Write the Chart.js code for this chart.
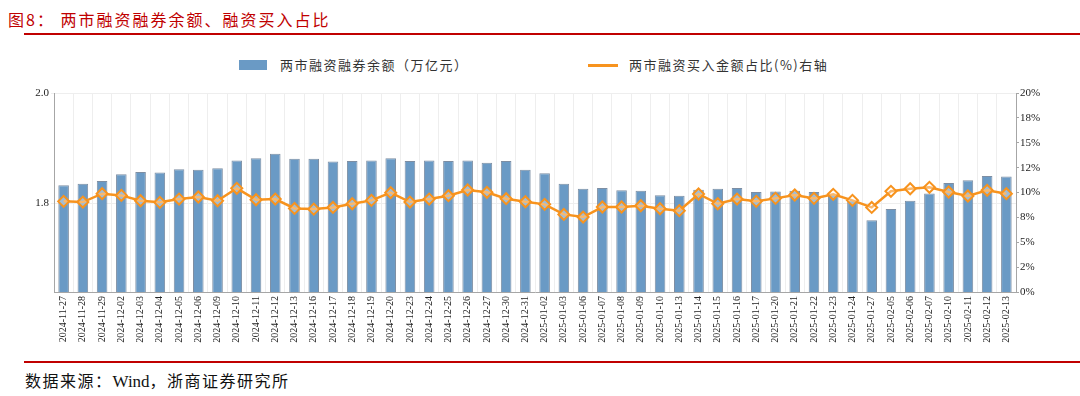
<!DOCTYPE html>
<html>
<head>
<meta charset="utf-8">
<script src="https://cdn.jsdelivr.net/npm/chart.js@4.4.1/dist/chart.umd.min.js"></script>
<style>
    body { margin: 0; width: 1080px; height: 396px; background: #fff; position: relative; overflow: hidden;
           font-family: "Noto Sans CJK SC", sans-serif; }
    #title { position: absolute; left: 8px; top: 7px; font-size: 16px; color: #C00000; letter-spacing: 2px; }
    .redline { position: absolute; left: 24px; width: 1056px; height: 2px; background: #C00000; }
    #source { position: absolute; left: 25px; top: 368px; font-size: 16px; color: #111; letter-spacing: 1.5px; }
    #source .latin { font-family: "Liberation Serif", serif; font-size: 17px; letter-spacing: 0; }
    .legend-item { position: absolute; top: 56px; height: 18px; font-size: 13px; color: #333; line-height: 18px; }
    .swatch { position: absolute; }
    #wrap { position: absolute; left: 0; top: 80px; width: 1080px; height: 275px; }
</style>
</head>
<body>
<div id="title">图8：&nbsp;两市融资融券余额、融资买入占比</div>
<div class="redline" style="top:33px"></div>
<div id="legend"></div>
<div id="wrap"><canvas id="chart"></canvas></div>
<div class="redline" style="top:361px"></div>
<div id="source">数据来源：<span class="latin">Wind</span>，浙商证券研究所</div>

<script>
// data
const dates = [
    "2024-11-27", "2024-11-28", "2024-11-29", "2024-12-02", "2024-12-03", "2024-12-04", "2024-12-05",
    "2024-12-06", "2024-12-09", "2024-12-10", "2024-12-11", "2024-12-12", "2024-12-13", "2024-12-16",
    "2024-12-17", "2024-12-18", "2024-12-19", "2024-12-20", "2024-12-23", "2024-12-24", "2024-12-25",
    "2024-12-26", "2024-12-27", "2024-12-30", "2024-12-31", "2025-01-02", "2025-01-03", "2025-01-06",
    "2025-01-07", "2025-01-08", "2025-01-09", "2025-01-10", "2025-01-13", "2025-01-14", "2025-01-15",
    "2025-01-16", "2025-01-17", "2025-01-20", "2025-01-21", "2025-01-22", "2025-01-23", "2025-01-24",
    "2025-01-27", "2025-02-05", "2025-02-06", "2025-02-07", "2025-02-10", "2025-02-11", "2025-02-12",
    "2025-02-13"
]

// 两市融资融券余额 (万亿元)
const balance = [
    1.833, 1.836, 1.841, 1.853, 1.857, 1.856, 1.862, 1.861, 1.864, 1.878,
    1.882, 1.890, 1.881, 1.881, 1.876, 1.877, 1.878, 1.882, 1.877, 1.878,
    1.877, 1.878, 1.874, 1.877, 1.861, 1.855, 1.836, 1.827, 1.828, 1.824,
    1.823, 1.815, 1.814, 1.825, 1.827, 1.828, 1.821, 1.822, 1.823, 1.821,
    1.817, 1.805, 1.770, 1.790, 1.805, 1.818, 1.837, 1.842, 1.850, 1.849
]

// 两市融资买入金额占比 (%)
const buyRatio = [
    9.11, 9.04, 9.88, 9.71, 9.17, 9.01, 9.34, 9.55, 9.17, 10.42,
    9.27, 9.34, 8.40, 8.33, 8.50, 8.87, 9.21, 9.98, 9.04, 9.34,
    9.68, 10.25, 10.02, 9.38, 9.07, 8.81, 7.80, 7.53, 8.54, 8.54,
    8.67, 8.37, 8.17, 9.85, 8.87, 9.34, 9.11, 9.41, 9.75, 9.41,
    9.82, 9.21, 8.50, 10.12, 10.38, 10.52, 10.05, 9.65, 10.22, 9.88
]

const leftTicks = [1.8, 2.0]
const rightTickLabels = ["0%", "2%", "5%", "8%", "10%", "12%", "15%", "18%", "20%"]

const BAR_COLOR = "#6A9AC5"
const LINE_COLOR = "#F7931E"
const SERIF = "'Liberation Serif', 'DejaVu Serif', serif"

// legend (html, positioned like the original)
function buildLegend() {
    var html = ""
    html += "<div class='legend-item' style='left:239px'>" +
        "<div class='swatch' style='left:0;top:4px;width:28px;height:10px;background:" + BAR_COLOR + "'></div>" +
        "<span style='position:absolute;left:41px;white-space:nowrap;letter-spacing:1.5px'>两市融资融券余额（万亿元）</span></div>"
    html += "<div class='legend-item' style='left:588px'>" +
        "<div class='swatch' style='left:0;top:8px;width:30px;height:2.5px;background:" + LINE_COLOR + "'></div>" +
        "<span style='position:absolute;left:41px;white-space:nowrap;letter-spacing:1.5px'>两市融资买入金额占比(%)右轴</span></div>"
    document.getElementById("legend").innerHTML = html
}
buildLegend()

const config = {
    type: "bar",
    data: {
        labels: dates,
        datasets: [{
            type: "line",
            label: "两市融资买入金额占比(%)右轴",
            data: buyRatio,
            yAxisID: "y1",
            borderColor: LINE_COLOR,
            borderWidth: 2.5,
            pointStyle: "rectRot",
            pointRadius: 5.5,
            pointBorderWidth: 2,
            pointBackgroundColor: "rgba(255,255,255,0.35)",
            pointBorderColor: LINE_COLOR,
            tension: 0,
            order: 0
        }, {
            type: "bar",
            label: "两市融资融券余额（万亿元）",
            data: balance,
            yAxisID: "y",
            backgroundColor: BAR_COLOR,
            borderColor: "#7d8ea3",
            borderWidth: 1,
            barPercentage: 0.55,
            categoryPercentage: 1.0,
            order: 1
        }]
    },
    options: {
        responsive: true,
        maintainAspectRatio: false,
        animation: false,
        layout: { padding: { top: 13, left: 0, right: 0, bottom: 0 } },
        plugins: {
            legend: { display: false },
            tooltip: { enabled: false }
        },
        scales: {
            x: {
                offset: true,
                grid: { color: "#eeeeee", offset: true, drawTicks: false },
                border: { color: "#a6a6a6", width: 1 },
                ticks: {
                    autoSkip: false,
                    minRotation: 90,
                    maxRotation: 90,
                    padding: 4,
                    color: "#222",
                    font: { family: SERIF, size: 10 }
                },
                afterFit: function(scale) { scale.height = 63 }
            },
            y: {
                position: "left",
                min: 1.64,
                max: 2.0,
                afterBuildTicks: function(scale) {
                    scale.ticks = leftTicks.map(v => ({ value: v }))
                },
                grid: { color: "#eeeeee", tickLength: 3 },
                border: { color: "#a6a6a6", width: 1 },
                ticks: {
                    color: "#222",
                    padding: 2,
                    font: { family: SERIF, size: 11 },
                    callback: function(v) { return v.toFixed(1) }
                },
                afterFit: function(scale) { scale.width = 54 }
            },
            y1: {
                position: "right",
                min: 0,
                max: 20,
                grid: { drawOnChartArea: false, color: "#a6a6a6", tickLength: 3 },
                border: { color: "#a6a6a6", width: 1 },
                ticks: {
                    stepSize: 2.5,
                    color: "#222",
                    padding: 1,
                    font: { family: SERIF, size: 11 },
                    callback: function(v, i) { return rightTickLabels[i] }
                },
                afterFit: function(scale) { scale.width = 64 }
            }
        }
    }
}

new Chart(document.getElementById("chart"), config)
</script>
</body>
</html>
